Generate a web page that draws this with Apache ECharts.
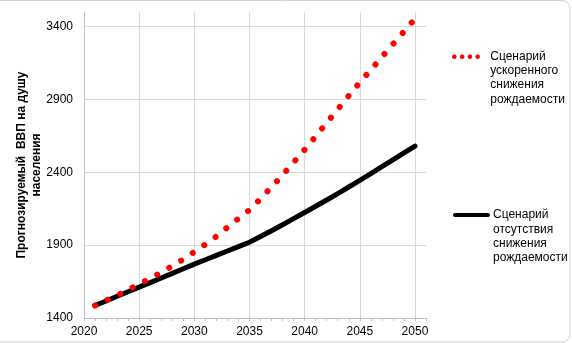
<!DOCTYPE html>
<html><head><meta charset="utf-8">
<script src="https://cdn.jsdelivr.net/npm/echarts@6/dist/echarts.min.js"></script>
<style>html,body{margin:0;padding:0;background:#fff}#c{width:572px;height:343px}</style>
</head><body><div id="c"></div>
<script>
const years = [2021,2022,2023,2024,2025,2026,2027,2028,2029,2030,2031,2032,2033,2034,2035,2036,2037,2038,2039,2040,2041,2042,2043,2044,2045,2046,2047,2048,2049,2050];
const fastDecline = [1486,1521,1555,1593,1633,1672,1713,1757,1803,1854,1905,1960,2022,2082,2141,2218,2299,2381,2468,2555,2646,2740,2832,2925,3017,3102,3191,3279,3365,3453];
const noDecline = [1486,1517,1549,1580,1612,1643,1675,1706,1738,1770,1800,1830,1860,1890,1920,1959,1999,2040,2082,2124,2167,2210,2254,2299,2345,2391,2438,2485,2533,2580];
const seriesNames = ['Сценарий ускоренного снижения рождаемости', 'Сценарий отсутствия снижения рождаемости'];
const yTitle = 'Прогнозируемый  ВВП на душу\nнаселения';
const yMin = 1400, yMax = 3500, yStep = 500;
const xMin = 2020, xMax = 2051, xStep = 5;

const chart = echarts.init(document.getElementById('c'), null, {renderer: 'canvas'});
const font = 'Liberation Sans, Arial, sans-serif';
const legendText = {fontSize: 12, lineHeight: 14.2, color: '#000', fontFamily: font};
const legendFmt = n => '\n\n\n' + n.split(' ').join('\n');
const noSym = {color: 'rgba(0,0,0,0)', borderWidth: 0};
chart.setOption({
  animation: false,
  backgroundColor: '#fff',
  textStyle: {fontFamily: font},
  grid: {left: 84, right: 146, top: 12, bottom: 25},
  graphic: [{type: 'rect', silent: true, shape: {x: -20, y: 0.5, width: 590, height: 341.5, r: 8},
    style: {fill: 'none', stroke: '#d0d0d0', lineWidth: 1}}],
  legend: [
    {data: [{name: seriesNames[0], itemStyle: noSym, lineStyle: {width: 4.5, type: [0.1, 7.7], cap: 'round'}}],
     left: 452, top: 7, padding: 0, itemWidth: 31, itemHeight: 14,
     formatter: legendFmt, textStyle: legendText},
    {data: [{name: seriesNames[1], itemStyle: noSym, lineStyle: {width: 4, cap: 'round'}}],
     left: 453, top: 165.3, padding: 0, itemWidth: 33, itemHeight: 14,
     formatter: legendFmt, textStyle: legendText}
  ],
  xAxis: [
    {type: 'value', min: xMin, max: xMax, interval: xStep, position: 'bottom',
     axisLine: {show: true, lineStyle: {color: '#bfbfbf'}},
     axisTick: {show: false},
     splitLine: {show: true, showMaxLine: false, lineStyle: {color: '#d9d9d9'}},
     axisLabel: {showMaxLabel: false, margin: 8, fontSize: 12, color: '#000', fontFamily: font, formatter: v => String(v)}},
    {type: 'value', min: xMin, max: xMax, interval: 1, position: 'bottom',
     axisLine: {show: false}, splitLine: {show: false}, axisLabel: {show: false},
     axisTick: {show: true, length: 3, inside: false, lineStyle: {color: '#bfbfbf'}}}
  ],
  yAxis: {type: 'value', min: yMin, max: yMax, interval: yStep,
    axisLine: {show: true, lineStyle: {color: '#bfbfbf'}},
    axisTick: {show: false},
    splitLine: {show: true, showMaxLine: false, lineStyle: {color: '#d9d9d9'}},
    axisLabel: {showMaxLabel: false, margin: 11, fontSize: 12, color: '#000', fontFamily: font, formatter: v => String(v)},
    name: yTitle, nameLocation: 'middle', nameGap: 40, nameRotate: 90, nameMoveOverlap: false,
    nameTextStyle: {fontWeight: 'bold', fontSize: 12, lineHeight: 15, color: '#000', fontFamily: font, align: 'center'}},
  series: [
    {name: seriesNames[0], type: 'line', xAxisIndex: 0, symbol: 'none', z: 3,
     data: years.map((y, i) => [y, fastDecline[i]]),
     lineStyle: {color: '#ff0000', width: 6, type: [0.1, 13.78], cap: 'round'}, itemStyle: {color: '#ff0000'}},
    {name: seriesNames[1], type: 'line', xAxisIndex: 0, symbol: 'none', z: 2,
     data: years.map((y, i) => [y, noDecline[i]]),
     lineStyle: {color: '#000', width: 5, cap: 'round', join: 'round'}, itemStyle: {color: '#000'}}
  ]
});
</script></body></html>
